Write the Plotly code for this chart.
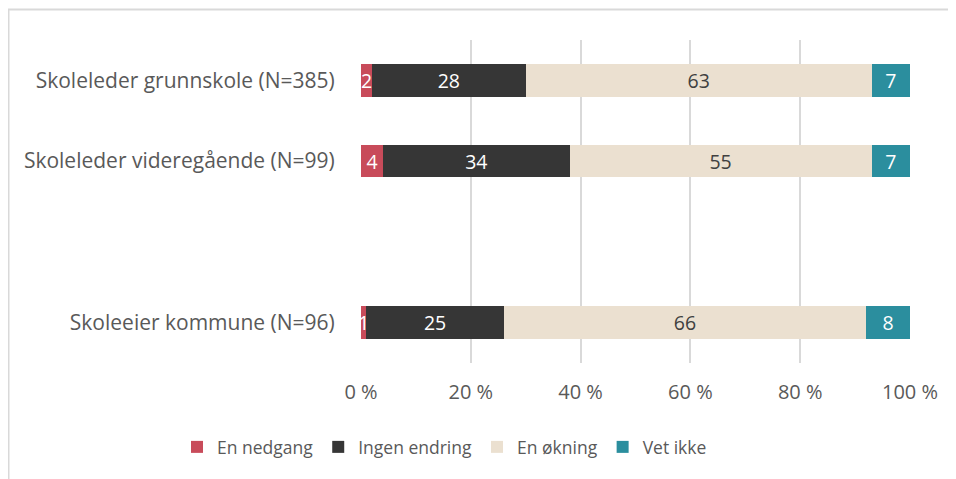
import plotly.graph_objects as go

categories = ["Skoleleder grunnskole (N=385)", "Skoleleder videregående (N=99)", " ", "Skoleeier kommune (N=96)"]
series_names = ["En nedgang", "Ingen endring", "En økning", "Vet ikke"]
en_nedgang = [2, 4, None, 1]
ingen_endring = [28, 34, None, 25]
en_okning = [63, 55, None, 66]
vet_ikke = [7, 7, None, 8]
x_ticks = [0, 20, 40, 60, 80, 100]
x_tick_labels = [f"{t} %" for t in x_ticks]

colors = ["#C84B5A", "#363636", "#EBE0D0", "#2B8E9E"]
text_colors = ["#FFFFFF", "#FFFFFF", "#404040", "#FFFFFF"]
values = [en_nedgang, ingen_endring, en_okning, vet_ikke]

FONT = "Open Sans"
OFF = 8  # page body margin
fig = go.Figure()
for name, vals, c, tc in zip(series_names, values, colors, text_colors):
    fig.add_trace(go.Bar(
        y=categories, x=vals, name=name, orientation="h",
        marker=dict(color=c, line=dict(width=0)),
        text=[("" if v is None else str(v)) for v in vals],
        textposition="inside", insidetextanchor="middle", textangle=0,
        constraintext="none", cliponaxis=False,
        textfont=dict(family=FONT, size=19.5, color=tc),
        hoverinfo="skip",
    ))

# page-pixel layout targets
W, H = 956 - OFF, 479 - OFF
L, R, T, B = 361 - OFF, 46, 40 - OFF, 116
pw, ph = W - L - R, H - T - B

def px(x):
    return (x - OFF - L) / pw

def py(y):
    return (H - B - (y - OFF)) / ph

fig.update_layout(
    width=W, height=H, barmode="stack", bargap=0.6,
    margin=dict(l=L, r=R, t=T, b=B),
    paper_bgcolor="white", plot_bgcolor="white",
    font=dict(family=FONT, size=20, color="#595959"),
    xaxis=dict(range=[0, 100], tickmode="array", tickvals=x_ticks, ticktext=x_tick_labels,
               showgrid=True, gridcolor="#D9D9D9", gridwidth=2,
               tickfont=dict(family=FONT, size=20, color="#595959"),
               zeroline=False, showline=False, ticks="outside", ticklen=11,
               tickcolor="rgba(0,0,0,0)", fixedrange=True),
    yaxis=dict(categoryorder="array", categoryarray=categories,
               autorange="reversed", showgrid=False, zeroline=False,
               tickfont=dict(family=FONT, size=21, color="#595959"),
               ticks="outside", ticklen=21, tickcolor="rgba(0,0,0,0)"),
    legend=dict(orientation="h", x=px(177), xanchor="left", y=py(447), yanchor="middle",
                font=dict(family=FONT, size=17.5, color="#595959"),
                itemwidth=30, traceorder="normal"),
    shapes=[
        dict(type="line", xref="paper", yref="paper", x0=px(8), x1=px(955), y0=py(9.5), y1=py(9.5),
             line=dict(color="#D9D9D9", width=2)),
        dict(type="line", xref="paper", yref="paper", x0=px(8.5), x1=px(8.5), y0=py(9.5), y1=py(479),
             line=dict(color="#D9D9D9", width=2)),
    ],
)

fig.write_html("out.html")
